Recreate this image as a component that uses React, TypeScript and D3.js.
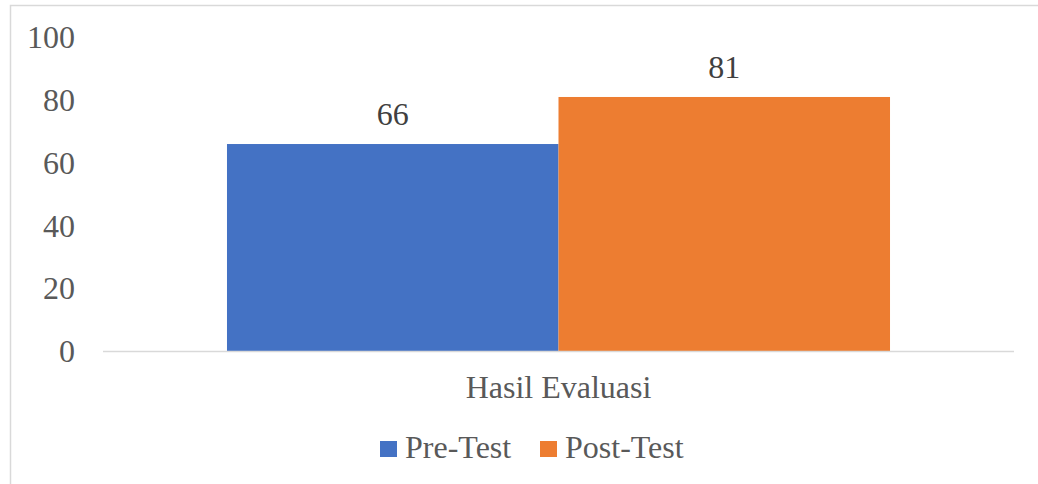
import React from "react";
import * as d3 from "d3";

const categories = ["Hasil Evaluasi"];
const seriesNames = ["Pre-Test", "Post-Test"];
const seriesValues = [66, 81];
const seriesColors = ["#4472C4", "#ED7D31"];
const yTicks = [0, 20, 40, 60, 80, 100];

export default function App() {
  const W = 1038;
  const H = 484;
  const plotLeft = 103;
  const plotRight = 1014;
  const y = d3.scaleLinear().domain([0, 100]).range([351, 37.4]);
  const x0 = d3.scaleBand().domain(categories).range([plotLeft, plotRight]).paddingInner(0).paddingOuter(0.187);
  const x1 = d3.scaleBand().domain(seriesNames).range([0, x0.bandwidth()]).padding(0);
  const fs = 32;
  const ts: React.CSSProperties = { fontFamily: "'Liberation Serif', 'Times New Roman', serif" };

  return (
    <svg width={W} height={H} style={{ position: "absolute", left: 0, top: 0 }}>
      <rect x={0} y={0} width={W} height={H} fill="#fff" />
      <rect x={10.5} y={5.5} width={W + 20} height={H + 20} fill="none" stroke="#d9d9d9" strokeWidth={1.5} />
      {yTicks.map((t) => (
        <text key={t} x={75} y={y(t) + 11} textAnchor="end" fontSize={fs} fill="#595959" style={ts}>
          {t}
        </text>
      ))}
      {categories.map((c) =>
        seriesNames.map((s, i) => {
          const v = seriesValues[i];
          const bx = (x0(c) as number) + (x1(s) as number);
          return (
            <g key={c + s}>
              <rect x={bx} y={y(v)} width={x1.bandwidth()} height={y(0) - y(v)} fill={seriesColors[i]} />
              <text x={bx + x1.bandwidth() / 2} y={y(v) - 19} textAnchor="middle" fontSize={fs} fill="#404040" style={ts}>
                {v}
              </text>
            </g>
          );
        })
      )}
      <line x1={plotLeft} x2={plotRight} y1={y(0) + 0.5} y2={y(0) + 0.5} stroke="#d9d9d9" strokeWidth={1.5} />
      {categories.map((c) => (
        <text key={c} x={(x0(c) as number) + x0.bandwidth() / 2} y={398} textAnchor="middle" fontSize={fs} fill="#595959" style={ts}>
          {c}
        </text>
      ))}
      {seriesNames.map((s, i) => {
        const lx = [380, 540][i];
        return (
          <g key={s}>
            <rect x={lx} y={441} width={17} height={16} fill={seriesColors[i]} />
            <text x={lx + 25} y={458} fontSize={fs} fill="#595959" style={ts}>
              {s}
            </text>
          </g>
        );
      })}
    </svg>
  );
}
